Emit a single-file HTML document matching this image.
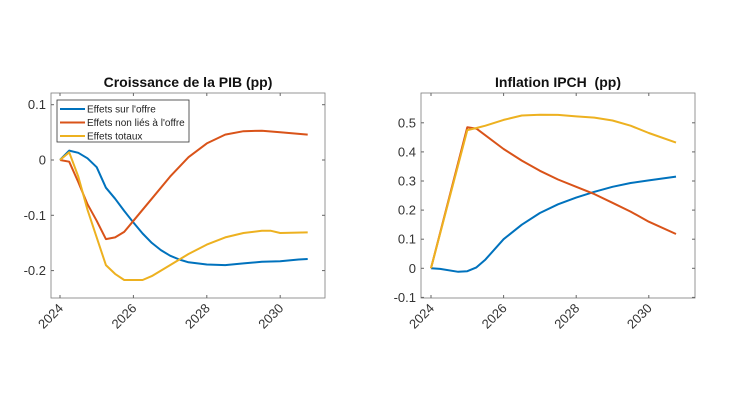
<!DOCTYPE html>
<html><head><meta charset="utf-8"><style>
html,body{margin:0;padding:0;background:#fff;}
svg{display:block;font-family:"Liberation Sans",Arial,sans-serif;}
</style></head><body>
<svg id="s" width="730" height="410" viewBox="0 0 730 410"></svg>
<script>
const svg=document.getElementById('s');let h='';
function panel(o){
 const X=y=>o.x0+(y-2024)*o.px, Y=v=>o.yz-v*o.py;
 h+=`<rect x="${o.L}" y="93" width="${o.R-o.L}" height="205" fill="#fff" stroke="#262626" stroke-width="0.8" opacity="0.6"/>`;
 h+=`<text x="${(o.L+o.R)/2}" y="87" text-anchor="middle" font-weight="bold" font-size="14" fill="#111">${o.title}</text>`;
 o.yt.forEach(v=>{const y=Y(v);h+=`<line x1="${o.L}" x2="${o.L+3}" y1="${y}" y2="${y}" stroke="#666"/><line x1="${o.R}" x2="${o.R-3}" y1="${y}" y2="${y}" stroke="#666"/><text x="${o.L-5}" y="${y+4.5}" text-anchor="end" font-size="13" fill="#333">${v}</text>`;});
 [2024,2026,2028,2030].forEach(t=>{const x=X(t);h+=`<line x1="${x}" x2="${x}" y1="298" y2="295" stroke="#666"/><line x1="${x}" x2="${x}" y1="93" y2="96" stroke="#666"/><text transform="translate(${x+4},${309}) rotate(-45)" text-anchor="end" font-size="13" fill="#333">${t}</text>`;});
 o.series.forEach(([c,d])=>{h+=`<polyline fill="none" stroke="${c}" stroke-width="2" stroke-linejoin="round" points="${d.map(p=>X(p[0]).toFixed(1)+','+Y(p[1]).toFixed(1)).join(' ')}"/>`;});
}
const B='#0072BD',R='#D95319',Yc='#EDB120';
panel({L:51,R:325,x0:60,px:36.7,yz:160,py:553,title:'Croissance de la PIB (pp)',yt:[0.1,0,-0.1,-0.2],series:[
[B,[[2024,0],[2024.25,0.017],[2024.5,0.013],[2024.75,0.003],[2025,-0.013],[2025.25,-0.05],[2025.5,-0.07],[2025.75,-0.092],[2026,-0.113],[2026.25,-0.133],[2026.5,-0.15],[2026.75,-0.163],[2027,-0.173],[2027.25,-0.18],[2027.5,-0.185],[2028,-0.189],[2028.5,-0.19],[2029,-0.187],[2029.5,-0.184],[2030,-0.183],[2030.5,-0.18],[2030.75,-0.179]]],
[R,[[2024,0],[2024.25,-0.003],[2024.5,-0.04],[2024.75,-0.08],[2025,-0.11],[2025.25,-0.143],[2025.5,-0.14],[2025.75,-0.13],[2026,-0.11],[2026.5,-0.07],[2027,-0.03],[2027.5,0.005],[2028,0.03],[2028.5,0.046],[2029,0.052],[2029.5,0.053],[2030,0.05],[2030.75,0.046]]],
[Yc,[[2024,0],[2024.25,0.014],[2024.5,-0.03],[2024.75,-0.09],[2025,-0.14],[2025.25,-0.19],[2025.5,-0.206],[2025.75,-0.217],[2026.25,-0.217],[2026.5,-0.21],[2027,-0.19],[2027.5,-0.17],[2028,-0.153],[2028.5,-0.14],[2029,-0.132],[2029.5,-0.128],[2029.75,-0.128],[2030,-0.132],[2030.75,-0.131]]]]});
panel({L:421,R:695,x0:431,px:36.3,yz:268.3,py:291,title:'Inflation IPCH&#160; (pp)',yt:[0.5,0.4,0.3,0.2,0.1,0,-0.1],series:[
[B,[[2024,0],[2024.25,-0.002],[2024.75,-0.012],[2025,-0.01],[2025.25,0.003],[2025.5,0.03],[2026,0.1],[2026.5,0.15],[2027,0.19],[2027.5,0.22],[2028,0.243],[2028.5,0.263],[2029,0.28],[2029.5,0.293],[2030,0.302],[2030.75,0.315]]],
[R,[[2024,0],[2025,0.485],[2025.25,0.48],[2026,0.41],[2026.5,0.37],[2027,0.335],[2027.5,0.305],[2028,0.28],[2028.5,0.255],[2029,0.225],[2029.5,0.195],[2030,0.16],[2030.75,0.118]]],
[Yc,[[2024,0],[2025,0.475],[2025.25,0.482],[2025.5,0.49],[2026,0.51],[2026.5,0.525],[2027,0.528],[2027.5,0.527],[2028,0.522],[2028.5,0.518],[2029,0.508],[2029.5,0.49],[2030,0.465],[2030.75,0.432]]]]});
h+=`<rect x="57" y="100" width="132" height="42" fill="#fff" stroke="#333" stroke-width="0.8"/>`;
[[B,"Effets sur l'offre"],[R,"Effets non liés à l'offre"],[Yc,"Effets totaux"]].forEach(([c,t],i)=>{const y=109+i*13.5;h+=`<line x1="60" x2="85" y1="${y}" y2="${y}" stroke="${c}" stroke-width="2"/><text x="87" y="${y+3.5}" font-size="10" fill="#222">${t}</text>`;});
svg.innerHTML=h;
</script>
</body></html>
